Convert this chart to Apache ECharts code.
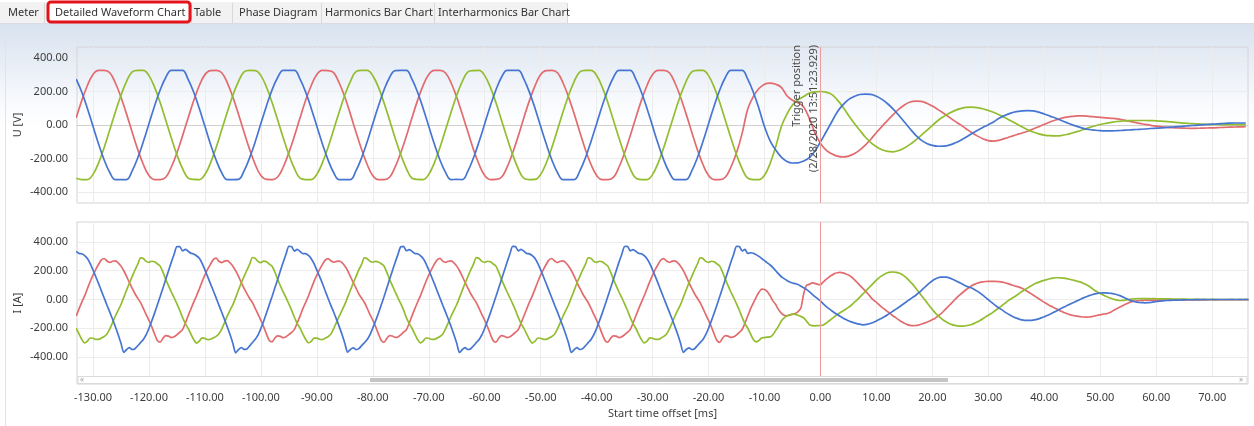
<!DOCTYPE html>
<html>
<head>
<meta charset="utf-8">
<script src="https://cdn.jsdelivr.net/npm/echarts@6/dist/echarts.min.js"></script>
<style>
  html, body { margin: 0; padding: 0; background: #ffffff; }
  #chart { width: 1254px; height: 426px; }
</style>
</head>
<body>
<div id="chart"></div>
<script>
// ---- Record layout ----------------------------------------------------------
const SAMPLE_START = -133;   // ms, first sample of the record
const U_STEP = 1;            // ms between voltage samples
const I_STEP = 0.5;          // ms between current samples
const TRIGGER_T = 0;         // ms, trigger instant
const TRIGGER_TEXT = ['Trigger position', '(2/28/2020 13:51:23.929)'];

const TABS = ['Meter', 'Detailed Waveform Chart', 'Table', 'Phase Diagram', 'Harmonics Bar Chart', 'Interharmonics Bar Chart'];
const X_TICKS = [-130, -120, -110, -100, -90, -80, -70, -60, -50, -40, -30, -20, -10, 0, 10, 20, 30, 40, 50, 60, 70];
const Y_TICKS = [-400, -200, 0, 200, 400];

// ---- Phase voltages [V], one sample per ms (10 samples per row) ------------
const uL1 = [
  43,147,236,302,326,326,312,251,166,65,
  -43,-147,-236,-302,-326,-326,-312,-251,-166,-65,
  42,146,236,301,325,326,312,252,166,64,
  -44,-147,-237,-302,-325,-326,-311,-251,-165,-65,
  43,148,236,302,326,325,313,251,167,65,
  -43,-146,-236,-303,-326,-326,-312,-250,-166,-66,
  43,147,237,302,326,326,311,251,166,64,
  -42,-147,-236,-302,-326,-325,-312,-252,-166,-65,
  44,147,235,302,325,326,312,251,165,65,
  -43,-148,-236,-301,-326,-326,-313,-251,-166,-64,
  43,147,236,302,326,326,312,251,166,65,
  -43,-147,-236,-302,-326,-326,-312,-251,-166,-50,
  95,170,218,244,250,243,225,175,148,133,
  108,40,-45,-110,-150,-172,-186,-191,-186,-172,
  -150,-120,-85,-45,-8,28,62,95,120,137,
  143,141,130,113,92,70,47,23,2,-22,
  -45,-65,-82,-93,-96,-90,-80,-69,-58,-48,
  -37,-24,-10,4,18,30,40,47,52,54,
  54,52,49,46,43,40,37,31,24,17,
  10,4,-2,-7,-11,-14,-16,-18,-19,-20,
  -20,-19,-18,-17,-16,-14,-13,-12,-11,-10
];
const uL2 = [
  -318,-326,-326,-295,-226,-134,-29,78,178,261,
  318,326,326,295,226,134,29,-78,-178,-261,
  -317,-325,-326,-296,-226,-135,-29,77,178,260,
  318,326,325,295,227,134,30,-78,-177,-261,
  -318,-326,-326,-295,-225,-134,-28,78,179,261,
  319,326,326,294,226,133,29,-79,-178,-260,
  -318,-325,-326,-295,-226,-134,-29,78,178,261,
  317,325,326,295,226,134,28,-78,-178,-262,
  -319,-326,-325,-295,-227,-134,-29,79,178,261,
  318,326,326,296,226,135,29,-78,-179,-261,
  -318,-326,-326,-295,-226,-134,-29,78,178,261,
  318,326,326,295,226,134,29,-78,-178,-261,
  -318,-326,-326,-300,-230,-130,-10,65,120,150,
  170,190,198,200,196,183,150,108,58,12,
  -30,-72,-105,-130,-148,-158,-160,-152,-137,-116,
  -90,-62,-32,-2,27,50,70,86,98,105,
  107,104,97,87,75,60,43,25,7,-11,
  -28,-42,-53,-60,-64,-65,-63,-57,-48,-38,
  -27,-16,-6,3,10,16,21,24,26,27,
  27,27,26,25,23,20,17,14,11,9,
  7,5,4,3,3,2,2,2,2,2
];
const uL3 = [
  274,196,99,-8,-114,-209,-284,-326,-326,-326,
  -274,-196,-99,8,114,209,284,326,326,326,
  273,196,98,-8,-115,-209,-285,-326,-326,-325,
  -274,-195,-99,9,114,210,284,326,326,326,
  274,197,99,-7,-114,-208,-284,-326,-326,-326,
  -273,-196,-100,8,113,209,284,325,326,326,
  274,196,99,-8,-114,-209,-283,-326,-325,-326,
  -275,-196,-99,8,114,209,285,326,326,326,
  274,195,99,-9,-114,-209,-284,-326,-326,-326,
  -274,-196,-98,8,115,209,284,326,326,326,
  274,196,99,-8,-114,-210,-284,-326,-326,-326,
  -274,-196,-99,8,114,209,284,326,326,326,
  274,196,99,-10,-95,-150,-192,-218,-227,-226,
  -215,-195,-155,-101,-42,18,78,120,152,170,
  182,185,183,172,153,127,95,58,18,-22,
  -60,-90,-110,-122,-127,-126,-120,-108,-92,-73,
  -52,-33,-15,2,20,42,58,71,80,84,
  86,84,77,66,53,42,28,14,1,-10,
  -20,-27,-31,-34,-35,-35,-34,-32,-30,-28,
  -26,-24,-21,-19,-17,-14,-12,-10,-7,-4,
  -2,1,3,5,7,9,11,12,12,12
];

// ---- Phase currents [A], two samples per ms (10 samples = 5 ms per row) ----
const iL1 = [
  -115,-65,-19,25,75,125,170,210,245,275,
  285,268,258,266,268,255,232,200,160,118,
  78,40,8,-22,-62,-105,-145,-190,-240,-285,
  -297,-270,-252,-255,-265,-260,-245,-228,-210,-165,
  -113,-66,-18,26,74,124,171,211,246,277,
  287,266,257,267,270,254,231,199,161,117,
  77,41,7,-23,-63,-104,-146,-191,-241,-286,
  -295,-268,-253,-257,-266,-259,-244,-229,-208,-163,
  -116,-64,-20,24,76,126,169,209,244,274,
  284,269,259,265,267,256,233,201,159,119,
  79,39,9,-21,-61,-106,-144,-189,-239,-284,
  -298,-271,-251,-254,-264,-261,-246,-227,-211,-166,
  -114,-65,-19,25,75,125,170,210,246,276,
  286,267,258,266,268,255,232,200,160,118,
  78,40,8,-22,-62,-105,-145,-190,-240,-286,
  -297,-270,-252,-256,-265,-260,-245,-228,-210,-164,
  -115,-66,-18,25,74,125,171,210,245,275,
  285,268,257,266,269,255,231,200,161,118,
  78,40,8,-23,-62,-104,-145,-190,-241,-285,
  -296,-270,-253,-255,-265,-259,-245,-229,-210,-165,
  -115,-65,-19,26,75,124,170,211,245,275,
  284,268,258,267,268,254,232,201,160,117,
  77,40,9,-22,-62,-105,-146,-190,-240,-285,
  -298,-269,-252,-255,-264,-260,-246,-228,-209,-165,
  -115,-65,-25,15,50,72,70,55,26,-10,
  -35,-70,-95,-110,-114,-110,-103,-98,-85,-60,
  40,98,105,115,112,105,103,122,140,155,
  168,180,186,188,185,178,170,158,140,120,
  100,80,60,38,15,-5,-20,-38,-55,-70,
  -85,-100,-115,-128,-142,-155,-166,-175,-180,-182,
  -181,-178,-172,-165,-158,-150,-140,-130,-115,-100,
  -82,-62,-42,-22,-2,18,35,52,68,82,
  95,105,113,119,123,125,126,126,126,125,
  124,121,116,110,103,97,91,86,78,68,
  56,44,31,18,5,-8,-20,-32,-43,-52,
  -62,-72,-82,-90,-98,-105,-110,-114,-117,-120,
  -122,-123,-122,-119,-115,-110,-106,-102,-100,-94,
  -85,-73,-62,-53,-43,-33,-24,-17,-12,-9,
  -7,-6,-5,-5,-4,-5,-4,-4,-5,-4,
  -4,-3,-4,-4,-3,-3,-4,-3,-3,-3,
  -3,-3,-2,-3,-3,-2,-2,-3,-2,-2,
  -2,-2,-2,-1,-2,-2,-1,-2,-1,-1
];
const iL2 = [
  -200,-240,-278,-302,-290,-268,-270,-278,-278,-268,
  -258,-240,-205,-160,-115,-75,-35,15,65,115,
  160,205,245,290,285,265,258,266,262,248,
  232,190,140,95,52,12,-30,-75,-125,-168,
  -201,-241,-279,-303,-289,-267,-271,-279,-277,-267,
  -257,-239,-206,-161,-114,-74,-36,14,66,116,
  161,204,246,292,286,264,257,267,263,247,
  231,191,141,94,51,13,-31,-76,-124,-169,
  -199,-239,-277,-301,-291,-269,-269,-277,-279,-269,
  -259,-241,-204,-159,-116,-76,-34,16,64,114,
  159,206,244,289,284,266,259,265,261,249,
  233,189,139,96,53,11,-29,-74,-126,-167,
  -200,-240,-278,-302,-290,-268,-270,-278,-278,-268,
  -258,-240,-205,-160,-115,-75,-35,15,65,115,
  160,205,246,291,285,265,258,266,262,248,
  232,190,140,95,52,12,-30,-75,-125,-168,
  -201,-240,-278,-303,-290,-268,-270,-277,-278,-268,
  -258,-240,-205,-160,-115,-75,-35,15,65,116,
  161,205,245,290,286,265,258,266,263,248,
  232,190,140,95,52,12,-30,-75,-125,-168,
  -200,-241,-279,-302,-290,-267,-270,-278,-278,-268,
  -257,-240,-205,-161,-115,-74,-35,15,66,115,
  160,205,245,290,285,265,258,266,262,248,
  232,190,140,95,52,12,-30,-75,-125,-168,
  -200,-240,-278,-295,-285,-268,-265,-262,-260,-245,
  -215,-185,-150,-128,-114,-106,-102,-104,-110,-118,
  -128,-150,-175,-182,-183,-182,-181,-178,-165,-150,
  -135,-120,-105,-92,-80,-68,-55,-40,-22,-5,
  15,35,55,75,95,115,135,152,166,178,
  186,190,191,189,184,175,162,145,125,105,
  80,55,30,5,-20,-45,-70,-93,-113,-130,
  -145,-157,-167,-175,-180,-183,-185,-185,-183,-179,
  -174,-166,-157,-146,-134,-121,-110,-98,-84,-70,
  -55,-40,-25,-10,3,15,28,42,55,68,
  80,92,103,113,121,128,133,139,144,148,
  151,151,150,148,145,141,136,131,126,121,
  112,103,92,78,63,52,42,32,22,14,
  7,1,-4,-7,-6,-4,-1,2,4,5,
  6,6,6,6,5,6,5,5,4,5,
  4,4,3,3,3,2,2,2,1,1,
  1,1,0,1,0,0,1,0,0,0,
  0,0,0,0,0,0,0,0,0,0
];
const iL3 = [
  335,320,318,305,285,250,205,158,110,60,
  10,-40,-88,-138,-190,-245,-305,-368,-348,-335,
  -348,-343,-322,-300,-278,-245,-200,-150,-95,-38,
  20,80,140,200,260,315,368,368,338,348,
  336,321,317,304,286,251,206,157,109,61,
  11,-39,-89,-139,-191,-246,-306,-371,-349,-334,
  -347,-344,-323,-299,-277,-246,-201,-151,-94,-37,
  21,81,139,201,261,316,370,367,337,349,
  334,319,319,306,284,249,204,159,111,59,
  9,-41,-87,-137,-189,-244,-304,-367,-347,-336,
  -349,-342,-321,-301,-279,-244,-199,-149,-96,-39,
  19,79,141,199,259,314,367,369,339,347,
  335,320,318,305,285,250,205,158,110,60,
  10,-40,-88,-138,-190,-245,-305,-369,-348,-335,
  -348,-343,-322,-300,-278,-245,-200,-150,-95,-38,
  20,80,140,200,260,316,369,368,338,348,
  336,320,317,305,285,250,206,158,109,60,
  10,-40,-88,-139,-190,-245,-306,-368,-349,-335,
  -348,-342,-322,-300,-278,-245,-201,-150,-95,-38,
  20,80,139,200,260,315,368,369,338,347,
  335,321,318,305,284,250,205,159,110,60,
  10,-39,-88,-138,-190,-244,-305,-368,-348,-336,
  -348,-343,-321,-300,-278,-245,-200,-149,-95,-38,
  20,80,140,200,261,316,370,368,338,348,
  320,325,322,312,300,285,270,255,240,222,
  200,178,158,145,132,122,115,110,104,92,
  82,70,55,38,20,5,-10,-30,-48,-64,
  -78,-92,-105,-117,-128,-138,-148,-156,-163,-168,
  -172,-176,-175,-171,-165,-158,-149,-139,-129,-118,
  -106,-93,-80,-67,-54,-40,-26,-12,2,15,
  28,45,62,80,98,115,130,142,151,155,
  156,155,150,143,134,124,114,104,94,86,
  80,70,58,45,30,14,-2,-18,-34,-49,
  -62,-74,-88,-100,-112,-122,-130,-137,-142,-145,
  -146,-146,-144,-140,-135,-128,-120,-112,-103,-93,
  -83,-73,-63,-53,-43,-34,-25,-16,-7,2,
  11,19,27,33,39,43,45,46,46,44,
  42,38,33,27,18,9,0,-8,-14,-18,
  -21,-22,-23,-22,-20,-17,-14,-12,-10,-8,
  -7,-6,-5,-5,-4,-3,-3,-2,-2,-2,
  -1,-1,-1,0,0,0,0,0,0,0,
  0,0,0,0,0,0,0,0,0,0
];

// ---- Styling -------------------------------------------------------------
const FONT = '"Noto Sans", "DejaVu Sans", sans-serif';
const TEXT = '#3c3c3c';
const C_L1 = '#e26b6e';
const C_L2 = '#92bd2e';
const C_L3 = '#4675d2';
const GRID_LINE = '#ececec';
const FRAME = '#d4d4d4';
const TRIGGER_COLOR = '#eb9c9c';

const X_MIN = -132.86, X_MAX = 76.4;     // visible window, ms
const U_MIN = -466, U_MAX = 466;          // voltage panel range
const I_MIN = -588, I_MAX = 539;          // current panel range (scroll strip below -400)

const tU = uL1.map((_, k) => SAMPLE_START + k * U_STEP);
const tI = iL1.map((_, k) => SAMPLE_START + k * I_STEP);
const pairs = (t, v) => t.map((x, k) => [x, v[k]]);

const fmt2 = v => v.toFixed(2);

function xAxisCfg(gridIndex, withLabels) {
  return {
    type: 'value', gridIndex, min: X_MIN, max: X_MAX,
    axisLine: withLabels ? { show: false, onZero: false } : { show: true, onZero: true, lineStyle: { color: '#d0d0d0', width: 1 } },
    axisTick: { show: false, customValues: X_TICKS },
    axisLabel: withLabels ? {
      customValues: X_TICKS, formatter: fmt2, fontSize: 11, color: TEXT, fontFamily: FONT, margin: 8
    } : { show: false, customValues: X_TICKS },
    splitLine: { show: true, lineStyle: { color: GRID_LINE, width: 1 } },
    name: withLabels ? 'Start time offset [ms]' : '',
    nameLocation: 'middle', nameGap: 24,
    nameTextStyle: { fontSize: 11, color: TEXT, fontFamily: FONT }
  };
}
function yAxisCfg(gridIndex, min, max, name) {
  return {
    type: 'value', gridIndex, min, max,
    axisLine: { show: false },
    axisTick: { show: false, customValues: Y_TICKS },
    axisLabel: { customValues: Y_TICKS, formatter: fmt2, fontSize: 11, color: TEXT, fontFamily: FONT, margin: 9 },
    splitLine: { show: true, lineStyle: { color: GRID_LINE, width: 1 } },
    name, nameLocation: 'middle', nameGap: 54, nameRotate: 90, nameMoveOverlap: false,
    nameTextStyle: { fontSize: 11, color: TEXT, fontFamily: FONT }
  };
}
function wave(name, t, v, color, axis, smooth) {
  return {
    type: 'line', name, xAxisIndex: axis, yAxisIndex: axis,
    data: pairs(t, v), showSymbol: false, smooth, clip: true,
    lineStyle: { color, width: 1.7 }, itemStyle: { color },
    silent: true, animation: false
  };
}
function triggerLine(withText) {
  return {
    silent: true, symbol: ['none', 'none'], animation: false,
    lineStyle: { color: TRIGGER_COLOR, width: 1, type: 'solid' },
    label: withText ? {
      show: true, position: 'insideEndTop', formatter: TRIGGER_TEXT.join('\n'),
      fontSize: 11, lineHeight: 17, color: '#4a4a4a', fontFamily: FONT, distance: -2
    } : { show: false },
    emphasis: { disabled: true },
    data: [{ xAxis: TRIGGER_T }]
  };
}

const uSeries = [
  wave('U L1', tU, uL1, C_L1, 0, 0.4),
  wave('U L2', tU, uL2, C_L2, 0, 0.4),
  wave('U L3', tU, uL3, C_L3, 0, 0.4)
];
uSeries[0].markLine = triggerLine(true);
const iSeries = [
  wave('I L1', tI, iL1, C_L1, 1, 0.25),
  wave('I L2', tI, iL2, C_L2, 1, 0.25),
  wave('I L3', tI, iL3, C_L3, 1, 0.25)
];
iSeries[0].markLine = triggerLine(false);

// ---- Tab strip and scroll strip (window chrome) --------------------------
const tabX = [8, 55, 194, 239, 325, 438];
const tabSeparators = [44, 191, 232, 321, 434, 567];
const chrome = [
  { type: 'rect', shape: { x: 0, y: 2, width: 567, height: 21 }, style: { fill: '#f2f2f2' }, z: 100 },
  { type: 'line', shape: { x1: 0, y1: 23.5, x2: 1254, y2: 23.5 }, style: { stroke: '#d9dde3', lineWidth: 1 }, z: 100 },
  { type: 'line', shape: { x1: 5.5, y1: 24, x2: 5.5, y2: 426 }, style: { stroke: '#e3e3e3', lineWidth: 1 }, z: 100 }
];
tabSeparators.forEach(x => chrome.push({
  type: 'line', shape: { x1: x + 0.5, y1: 3, x2: x + 0.5, y2: 23 }, style: { stroke: '#d8d8d8', lineWidth: 1 }, z: 101
}));
chrome.push({ type: 'rect', shape: { x: 48, y: 2, width: 142, height: 20, r: 3 }, style: { fill: '#ffffff', stroke: '#e4121b', lineWidth: 3 }, z: 102 });
TABS.forEach((label, k) => chrome.push({
  type: 'text', x: tabX[k], y: 12.5, z: 103,
  style: { text: label, fontSize: 11, fontFamily: FONT, fill: '#333333', verticalAlign: 'middle' }
}));
chrome.push(
  { type: 'rect', shape: { x: 78, y: 376.5, width: 1169, height: 7 }, style: { fill: '#ffffff', stroke: '#dadada', lineWidth: 1 }, z: 100 },
  { type: 'rect', shape: { x: 370, y: 378, width: 578, height: 4 }, style: { fill: '#c5c5c5' }, z: 101 },
  { type: 'text', x: 80, y: 380, z: 101, style: { text: '«', fontSize: 8, fill: '#a0a0a0', verticalAlign: 'middle', fontFamily: FONT } },
  { type: 'text', x: 1239, y: 380, z: 101, style: { text: '»', fontSize: 8, fill: '#a0a0a0', verticalAlign: 'middle', fontFamily: FONT } }
);

const chart = echarts.init(document.getElementById('chart'), null, { renderer: 'canvas' });
chart.setOption({
  animation: false,
  backgroundColor: new echarts.graphic.LinearGradient(0, 0, 0, 1, [
    { offset: 0, color: '#ffffff' },
    { offset: 0.054, color: '#ffffff' },
    { offset: 0.056, color: '#d8e2ef' },
    { offset: 0.15, color: '#e8eef6' },
    { offset: 0.24, color: '#f8fafd' },
    { offset: 0.30, color: '#ffffff' },
    { offset: 1, color: '#ffffff' }
  ]),
  textStyle: { fontFamily: FONT },
  grid: [
    { left: 77, top: 47, width: 1171, height: 156, show: true, borderColor: FRAME, borderWidth: 1, backgroundColor: 'transparent' },
    { left: 77, top: 222, width: 1171, height: 162, show: true, borderColor: FRAME, borderWidth: 1, backgroundColor: 'transparent' }
  ],
  xAxis: [xAxisCfg(0, false), xAxisCfg(1, true)],
  yAxis: [yAxisCfg(0, U_MIN, U_MAX, 'U [V]'), yAxisCfg(1, I_MIN, I_MAX, 'I [A]')],
  series: uSeries.concat(iSeries),
  graphic: chrome
});
</script>
</body>
</html>
